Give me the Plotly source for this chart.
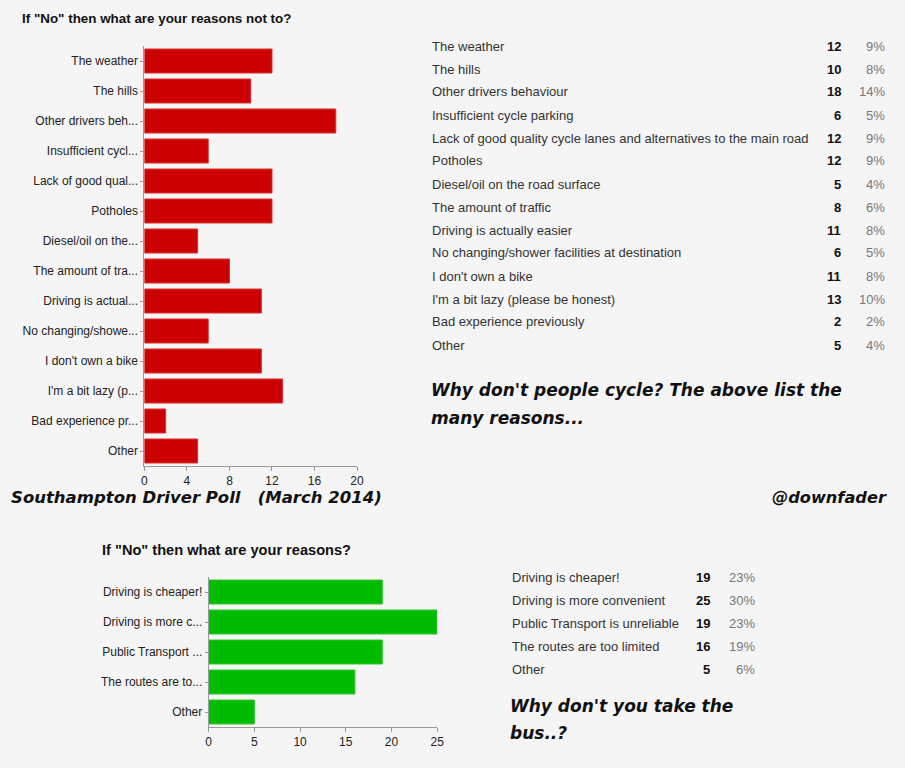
import plotly.graph_objects as go

W, H = 905, 768

# ---- data: cycling reasons ----
cycle_labels = ["The weather", "The hills", "Other drivers behaviour", "Insufficient cycle parking",
                "Lack of good quality cycle lanes and alternatives to the main road", "Potholes",
                "Diesel/oil on the road surface", "The amount of traffic", "Driving is actually easier",
                "No changing/shower facilities at destination", "I don't own a bike",
                "I'm a bit lazy (please be honest)", "Bad experience previously", "Other"]
cycle_ticks = ["The weather", "The hills", "Other drivers beh...", "Insufficient cycl...",
               "Lack of good qual...", "Potholes", "Diesel/oil on the...", "The amount of tra...",
               "Driving is actual...", "No changing/showe...", "I don't own a bike",
               "I'm a bit lazy (p...", "Bad experience pr...", "Other"]
cycle_counts = [12, 10, 18, 6, 12, 12, 5, 8, 11, 6, 11, 13, 2, 5]
cycle_pcts = ["9%", "8%", "14%", "5%", "9%", "9%", "4%", "6%", "8%", "5%", "8%", "10%", "2%", "4%"]

# ---- data: bus reasons ----
bus_labels = ["Driving is cheaper!", "Driving is more convenient", "Public Transport is unreliable",
              "The routes are too limited", "Other"]
bus_ticks = ["Driving is cheaper!", "Driving is more c...", "Public Transport ...",
             "The routes are to...", "Other"]
bus_counts = [19, 25, 19, 16, 5]
bus_pcts = ["23%", "30%", "23%", "19%", "6%"]

cycle_xticks = [0, 4, 8, 12, 16, 20]
bus_xticks = [0, 5, 10, 15, 20, 25]

def px(x):
    return x / W

def py(y):
    return 1 - y / H

fig = go.Figure()
fig.add_trace(go.Bar(x=cycle_counts, y=cycle_labels, orientation="h",
                     marker=dict(color="#cc0000", line=dict(color="#d83030", width=1)),
                     xaxis="x", yaxis="y", width=0.8, hoverinfo="x+y"))
fig.add_trace(go.Bar(x=bus_counts, y=bus_labels, orientation="h",
                     marker=dict(color="#00bb00", line=dict(color="#30c830", width=1)),
                     xaxis="x2", yaxis="y2", width=0.8, hoverinfo="x+y"))

axis_font = dict(family="Arial, Liberation Sans, sans-serif", size=12, color="#222222")
common_x = dict(showgrid=False, zeroline=False, showline=True, linecolor="#999999", linewidth=1,
                ticks="outside", ticklen=4, tickcolor="#999999", tickfont=axis_font)
common_y = dict(showgrid=False, zeroline=False, showline=True, linecolor="#999999", linewidth=1,
                ticks="outside", ticklen=3, tickcolor="#999999", tickfont=axis_font,
                type="category")

fig.update_layout(
    width=W, height=H, margin=dict(l=0, r=0, t=0, b=0),
    paper_bgcolor="#f5f5f5", plot_bgcolor="#f5f5f5", showlegend=False, bargap=0.2,
    xaxis=dict(domain=[px(143), px(358)], range=[0, 20], tickvals=cycle_xticks,
               anchor="y", **common_x),
    yaxis=dict(domain=[py(466), py(46)], range=[13.5, -0.5], anchor="x",
               tickvals=cycle_labels, ticktext=cycle_ticks, **common_y),
    xaxis2=dict(domain=[px(208), px(439)], range=[0, 25], tickvals=bus_xticks,
                anchor="y2", **common_x),
    yaxis2=dict(domain=[py(727), py(577)], range=[4.5, -0.5], anchor="x2",
                tickvals=bus_labels, ticktext=bus_ticks, **common_y),
)

ann = []
title_font = dict(family="Arial, Liberation Sans, sans-serif", size=13.4, color="#111111")
ann.append(dict(x=px(17), y=py(18), text="<b>If \"No\" then what are your reasons not to?</b>",
                xanchor="left", yanchor="middle", font=title_font))
ann.append(dict(x=px(98), y=py(550), text="<b>If \"No\" then what are your reasons?</b>",
                xanchor="left", yanchor="middle", font=dict(title_font, size=14.6)))

tab_font = dict(family="Arial, Liberation Sans, sans-serif", size=13, color="#333333")
cnt_font = dict(family="Arial, Liberation Sans, sans-serif", size=13, color="#111111")
pct_font = dict(family="Arial, Liberation Sans, sans-serif", size=13, color="#777777")

for i, (lab, c, p) in enumerate(zip(cycle_labels, cycle_counts, cycle_pcts)):
    yy = py(46 + 23 * i)
    ann.append(dict(x=px(432), y=yy, text=lab, xanchor="left", yanchor="middle", font=tab_font))
    ann.append(dict(x=px(849), y=yy, text=f"<b>{c}</b>", xanchor="right", yanchor="middle", font=cnt_font))
    ann.append(dict(x=px(894), y=yy, text=p, xanchor="right", yanchor="middle", font=pct_font))

for i, (lab, c, p) in enumerate(zip(bus_labels, bus_counts, bus_pcts)):
    yy = py(577 + 23 * i)
    ann.append(dict(x=px(513), y=yy, text=lab, xanchor="left", yanchor="middle", font=tab_font))
    ann.append(dict(x=px(717), y=yy, text=f"<b>{c}</b>", xanchor="right", yanchor="middle", font=cnt_font))
    ann.append(dict(x=px(762), y=yy, text=p, xanchor="right", yanchor="middle", font=pct_font))

comic = dict(family="Comic Sans MS, DejaVu Sans, sans-serif", size=17, color="#111111")
ann.append(dict(x=px(431), y=py(390), text="<b><i>Why don't people cycle? The above list the</i></b>",
                xanchor="left", yanchor="middle", font=comic))
ann.append(dict(x=px(431), y=py(418), text="<b><i>many reasons...</i></b>",
                xanchor="left", yanchor="middle", font=comic))
ann.append(dict(x=px(6), y=py(497), text="<b><i>Southampton Driver Poll   (March 2014)</i></b>",
                xanchor="left", yanchor="middle", font=dict(comic, size=16.5)))
ann.append(dict(x=px(896), y=py(497), text="<b><i>@downfader</i></b>",
                xanchor="right", yanchor="middle", font=dict(comic, size=16.2)))
ann.append(dict(x=px(511), y=py(706), text="<b><i>Why don't you take the</i></b>",
                xanchor="left", yanchor="middle", font=comic))
ann.append(dict(x=px(511), y=py(733), text="<b><i>bus..?</i></b>",
                xanchor="left", yanchor="middle", font=comic))

for a in ann:
    a.update(xref="paper", yref="paper", showarrow=False)
fig.update_layout(annotations=ann)

fig.write_html("out.html", config={"displayModeBar": False},
               post_script="document.body.style.margin='0';document.body.style.overflow='hidden';")
